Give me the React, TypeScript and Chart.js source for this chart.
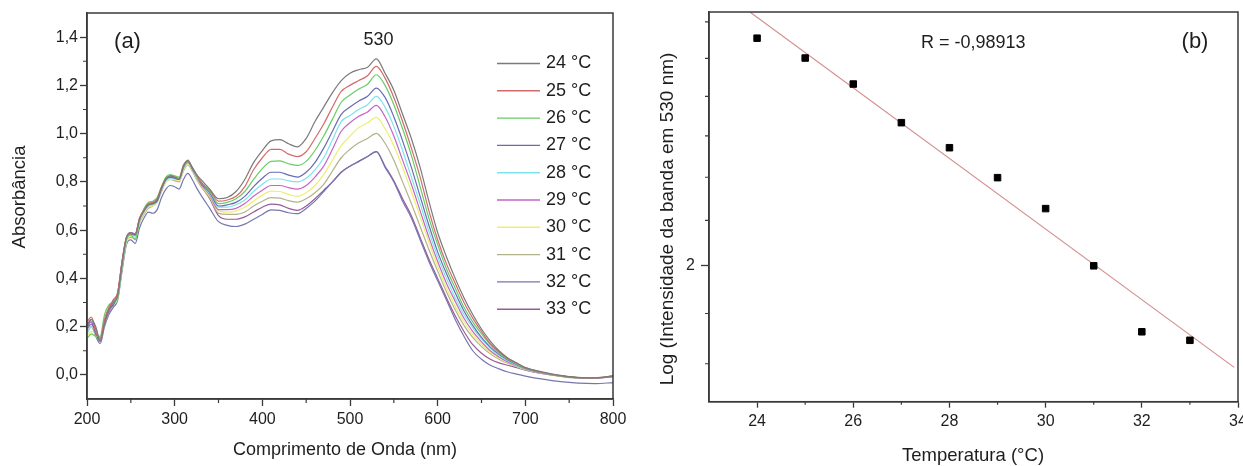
import { useEffect, useRef } from 'react';
import { Chart, registerables } from 'chart.js';

Chart.register(...registerables);

const FONT = '"Liberation Sans", Arial, Helvetica, sans-serif';
const AXIS = '#3a3a3a';
const TEXT = '#1e1e1e';

// ---------- (a) absorbance spectra ----------
const WAVELENGTHS = [
  200, 205, 210, 215, 220, 225, 230, 235, 240, 245, 250, 255, 260, 265, 270, 275, 280, 285, 290, 295,
  300, 305, 310, 315, 320, 325, 330, 340, 350, 360, 370, 380, 390, 400, 410, 420, 430, 440, 450, 460,
  470, 480, 490, 500, 510, 520, 530, 540, 550, 560, 570, 580, 590, 600, 610, 620, 630, 640, 650, 660,
  670, 680, 690, 700, 720, 740, 760, 780, 800,
];
const TEMPERATURES = [24, 25, 26, 27, 28, 29, 30, 31, 32, 33];

const ABS_24 = [
  0.19, 0.23, 0.2, 0.14, 0.21, 0.27, 0.3, 0.33, 0.46, 0.57, 0.59, 0.58, 0.645, 0.68, 0.705, 0.71, 0.725, 0.775, 0.81, 0.825, 0.82, 0.81, 0.865, 0.89, 0.86, 0.83, 0.81,
  0.77, 0.73, 0.735, 0.76, 0.81, 0.88, 0.93, 0.97, 0.975, 0.958, 0.945, 0.98, 1.05, 1.11, 1.17, 1.22, 1.25, 1.265, 1.275, 1.31, 1.25, 1.18, 1.08, 0.98, 0.86, 0.72, 0.59, 0.49, 0.4, 0.32, 0.25, 0.19, 0.14, 0.1, 0.07, 0.05, 0.03,
  0.012, -0.002, -0.01, -0.012, -0.004,
];
const ABS_25 = [
  0.22, 0.24, 0.18, 0.15, 0.23, 0.28, 0.31, 0.34, 0.47, 0.57, 0.585, 0.585, 0.65, 0.685, 0.71, 0.715, 0.73, 0.78, 0.815, 0.825, 0.82, 0.815, 0.87, 0.885, 0.86, 0.83, 0.8,
  0.765, 0.72, 0.725, 0.74, 0.78, 0.85, 0.9, 0.935, 0.935, 0.915, 0.905, 0.925, 0.98, 1.04, 1.11, 1.175, 1.2, 1.22, 1.24, 1.279, 1.23, 1.15, 1.05, 0.94, 0.82, 0.68, 0.56, 0.46, 0.38, 0.3, 0.235, 0.18, 0.13, 0.095, 0.068, 0.048, 0.03,
  0.01, -0.003, -0.011, -0.013, -0.006,
];
const ABS_26 = [
  0.15, 0.17, 0.16, 0.16, 0.25, 0.29, 0.3, 0.32, 0.45, 0.56, 0.58, 0.56, 0.64, 0.69, 0.715, 0.72, 0.735, 0.78, 0.82, 0.83, 0.825, 0.82, 0.865, 0.88, 0.86, 0.825, 0.8,
  0.76, 0.71, 0.715, 0.73, 0.76, 0.81, 0.855, 0.885, 0.887, 0.875, 0.868, 0.885, 0.93, 0.99, 1.06, 1.13, 1.16, 1.185, 1.205, 1.244, 1.2, 1.12, 1.02, 0.91, 0.78, 0.65, 0.54, 0.44, 0.36, 0.28, 0.22, 0.17, 0.125, 0.09, 0.065, 0.045, 0.028,
  0.009, -0.004, -0.011, -0.012, -0.005,
];
const ABS_27 = [
  0.21, 0.22, 0.17, 0.14, 0.22, 0.27, 0.29, 0.33, 0.46, 0.565, 0.585, 0.58, 0.645, 0.68, 0.705, 0.71, 0.72, 0.77, 0.81, 0.82, 0.815, 0.81, 0.86, 0.885, 0.855, 0.825, 0.795,
  0.755, 0.7, 0.705, 0.715, 0.74, 0.78, 0.815, 0.84, 0.84, 0.828, 0.82, 0.84, 0.88, 0.94, 1.01, 1.08, 1.11, 1.135, 1.155, 1.189, 1.15, 1.07, 0.97, 0.86, 0.74, 0.62, 0.51, 0.42, 0.34, 0.265, 0.205, 0.155, 0.115, 0.085, 0.062, 0.043, 0.027,
  0.008, -0.004, -0.012, -0.013, -0.006,
];
const ABS_28 = [
  0.17, 0.2, 0.18, 0.15, 0.23, 0.27, 0.3, 0.33, 0.45, 0.56, 0.58, 0.575, 0.64, 0.675, 0.7, 0.705, 0.72, 0.77, 0.805, 0.815, 0.815, 0.81, 0.855, 0.88, 0.855, 0.82, 0.795,
  0.75, 0.695, 0.695, 0.705, 0.725, 0.76, 0.79, 0.812, 0.812, 0.804, 0.8, 0.815, 0.85, 0.9, 0.975, 1.05, 1.075, 1.1, 1.12, 1.154, 1.11, 1.03, 0.93, 0.82, 0.71, 0.595, 0.49, 0.4, 0.32, 0.25, 0.195, 0.148, 0.11, 0.08, 0.058, 0.04, 0.025,
  0.008, -0.005, -0.012, -0.013, -0.006,
];
const ABS_29 = [
  0.19, 0.21, 0.17, 0.14, 0.22, 0.26, 0.3, 0.34, 0.47, 0.57, 0.59, 0.585, 0.65, 0.68, 0.7, 0.71, 0.725, 0.775, 0.81, 0.82, 0.815, 0.81, 0.86, 0.885, 0.855, 0.82, 0.79,
  0.745, 0.685, 0.685, 0.69, 0.71, 0.74, 0.765, 0.785, 0.785, 0.776, 0.77, 0.785, 0.82, 0.865, 0.935, 1.01, 1.045, 1.072, 1.09, 1.117, 1.07, 0.99, 0.89, 0.79, 0.68, 0.57, 0.47, 0.38, 0.305, 0.235, 0.18, 0.137, 0.1, 0.074, 0.054, 0.038, 0.024,
  0.007, -0.005, -0.012, -0.014, -0.007,
];
const ABS_30 = [
  0.16, 0.18, 0.17, 0.15, 0.22, 0.27, 0.29, 0.32, 0.45, 0.55, 0.575, 0.57, 0.635, 0.67, 0.695, 0.7, 0.715, 0.765, 0.8, 0.81, 0.81, 0.805, 0.85, 0.875, 0.85, 0.815, 0.785,
  0.74, 0.68, 0.675, 0.68, 0.695, 0.72, 0.745, 0.762, 0.76, 0.748, 0.74, 0.755, 0.785, 0.83, 0.89, 0.95, 0.99, 1.025, 1.045, 1.067, 1.02, 0.95, 0.86, 0.76, 0.655, 0.55, 0.45, 0.36, 0.285, 0.22, 0.168, 0.127, 0.094, 0.07, 0.051, 0.036, 0.023,
  0.007, -0.005, -0.012, -0.014, -0.007,
];
const ABS_31 = [
  0.18, 0.2, 0.16, 0.14, 0.21, 0.26, 0.29, 0.32, 0.44, 0.55, 0.57, 0.565, 0.63, 0.665, 0.69, 0.7, 0.715, 0.76, 0.8, 0.81, 0.805, 0.8, 0.845, 0.87, 0.845, 0.81, 0.78,
  0.735, 0.67, 0.665, 0.665, 0.675, 0.7, 0.72, 0.735, 0.733, 0.722, 0.716, 0.73, 0.755, 0.79, 0.845, 0.9, 0.935, 0.962, 0.98, 1.001, 0.96, 0.89, 0.8, 0.71, 0.615, 0.52, 0.43, 0.345, 0.27, 0.205, 0.155, 0.117, 0.087, 0.065, 0.048, 0.034, 0.022,
  0.006, -0.006, -0.013, -0.014, -0.007,
];
const ABS_32 = [
  0.2, 0.21, 0.16, 0.13, 0.2, 0.25, 0.28, 0.31, 0.43, 0.54, 0.56, 0.545, 0.61, 0.65, 0.675, 0.67, 0.685, 0.735, 0.77, 0.785, 0.78, 0.77, 0.81, 0.835, 0.81, 0.775, 0.745,
  0.69, 0.635, 0.62, 0.615, 0.625, 0.645, 0.665, 0.684, 0.682, 0.672, 0.668, 0.69, 0.72, 0.76, 0.8, 0.84, 0.865, 0.885, 0.905, 0.925, 0.86, 0.8, 0.72, 0.65, 0.56, 0.47, 0.39, 0.31, 0.23, 0.16, 0.1, 0.065, 0.04, 0.025, 0.012, 0.003, -0.005,
  -0.018, -0.028, -0.034, -0.036, -0.032,
];
const ABS_33 = [
  0.21, 0.23, 0.19, 0.15, 0.22, 0.27, 0.31, 0.34, 0.47, 0.57, 0.585, 0.58, 0.645, 0.68, 0.7, 0.71, 0.72, 0.77, 0.81, 0.82, 0.815, 0.81, 0.86, 0.88, 0.85, 0.815, 0.785,
  0.73, 0.66, 0.645, 0.645, 0.655, 0.675, 0.695, 0.708, 0.705, 0.69, 0.682, 0.7, 0.73, 0.765, 0.8, 0.84, 0.865, 0.885, 0.905, 0.925, 0.865, 0.805, 0.73, 0.66, 0.57, 0.48, 0.4, 0.32, 0.245, 0.18, 0.125, 0.09, 0.065, 0.05, 0.04, 0.03, 0.02,
  0.005, -0.005, -0.012, -0.012, -0.005,
];
const SPECTRA = [ABS_24, ABS_25, ABS_26, ABS_27, ABS_28, ABS_29, ABS_30, ABS_31, ABS_32, ABS_33];
const SERIES_COLORS = [
  '#7a7a7a', '#d46a6a', '#66cc66', '#6a6ab4', '#7ce4ec',
  '#c466c4', '#eeee72', '#b2b28a', '#7676b0', '#985a98',
];

const X_TICKS_A = [200, 300, 400, 500, 600, 700, 800];
const X_MINOR_A = [250, 350, 450, 550, 650, 750];
const Y_TICKS_A = [0, 0.2, 0.4, 0.6, 0.8, 1.0, 1.2, 1.4];
const Y_MINOR_A = [0.1, 0.3, 0.5, 0.7, 0.9, 1.1, 1.3];

// ---------- (b) log intensity vs temperature ----------
const TEMP_POINTS = [24, 25, 26, 27, 28, 29, 30, 31, 32, 33];
const LOG_INTENSITY = [2.555, 2.501, 2.432, 2.333, 2.271, 2.199, 2.127, 2.0, 1.863, 1.846];
const FIT_X = [23.85, 33.92];
const FIT_Y = [2.628, 1.793];
const X_TICKS_B = [24, 26, 28, 30, 32, 34];
const X_MINOR_B = [25, 27, 29, 31, 33];
const Y_TICKS_B = [2];
const Y_MINOR_B = [1.8, 1.9, 2.1, 2.2, 2.3, 2.4, 2.5, 2.6];
const Y_MIN_B = 1.728;
const Y_MAX_B = 2.628;

type TextItem = { text: string; x: number; y: number; size: number; align?: CanvasTextAlign; rotate?: boolean };

function decorPlugin(id: string, opts: {
  minorX: number[]; minorY: number[]; minorLenX: number; minorLenY: number;
  texts: TextItem[]; legend?: boolean;
}) {
  return {
    id,
    afterDraw(chart: any) {
      const { ctx, chartArea: a, scales } = chart;
      ctx.save();
      ctx.strokeStyle = AXIS;
      ctx.lineWidth = 1.5;
      ctx.strokeRect(a.left, a.top, a.right - a.left, a.bottom - a.top);
      ctx.lineWidth = 1.2;
      ctx.beginPath();
      for (const v of opts.minorX) {
        const px = scales.x.getPixelForValue(v);
        ctx.moveTo(px, a.bottom);
        ctx.lineTo(px, a.bottom + opts.minorLenX);
      }
      for (const v of opts.minorY) {
        const py = scales.y.getPixelForValue(v);
        ctx.moveTo(a.left - opts.minorLenY, py);
        ctx.lineTo(a.left, py);
      }
      ctx.stroke();

      ctx.fillStyle = TEXT;
      ctx.textBaseline = 'middle';
      for (const t of opts.texts) {
        ctx.font = `${t.size}px ${FONT}`;
        ctx.textAlign = t.align || 'center';
        if (t.rotate) {
          ctx.save();
          ctx.translate(t.x, t.y);
          ctx.rotate(-Math.PI / 2);
          ctx.fillText(t.text, 0, 0);
          ctx.restore();
        } else {
          ctx.fillText(t.text, t.x, t.y);
        }
      }

      if (opts.legend) {
        ctx.font = `18px ${FONT}`;
        ctx.textAlign = 'left';
        chart.data.datasets.forEach((ds: any, i: number) => {
          const y = 63.5 + i * 27.3;
          ctx.strokeStyle = ds.borderColor;
          ctx.lineWidth = 1.4;
          ctx.beginPath();
          ctx.moveTo(497, y);
          ctx.lineTo(540, y);
          ctx.stroke();
          ctx.fillStyle = TEXT;
          ctx.fillText(ds.label, 546, y);
        });
      }
      ctx.restore();
    },
  };
}

const tickFont = { family: FONT, size: 16 };

export default function App() {
  const leftRef = useRef<HTMLCanvasElement>(null);
  const rightRef = useRef<HTMLCanvasElement>(null);

  useEffect(() => {
    const left = new Chart(leftRef.current!, {
      type: 'line',
      data: {
        datasets: SPECTRA.map((vals, i) => ({
          label: `${TEMPERATURES[i]} °C`,
          data: WAVELENGTHS.map((w, j) => ({ x: w, y: vals[j] })),
          borderColor: SERIES_COLORS[i],
          backgroundColor: SERIES_COLORS[i],
          borderWidth: 1.2,
          pointRadius: 0,
          cubicInterpolationMode: 'monotone' as const,
          fill: false,
        })),
      },
      options: {
        animation: false,
        responsive: false,
        events: [],
        layout: { autoPadding: false, padding: { left: 0, right: 27, top: 13, bottom: 0 } },
        plugins: { legend: { display: false }, tooltip: { enabled: false } },
        scales: {
          x: {
            type: 'linear',
            min: 200,
            max: 800,
            afterBuildTicks: (s: any) => { s.ticks = X_TICKS_A.map((v) => ({ value: v })); s.min = 200; s.max = 800; },
            afterFit: (s: any) => { s.height = 67; },
            grid: { drawOnChartArea: false, drawTicks: true, tickLength: 7, tickColor: AXIS, tickWidth: 1.3 },
            border: { color: AXIS, width: 1.5 },
            ticks: { font: tickFont, color: TEXT, padding: 4, maxRotation: 0, autoSkip: false, callback: (v: any) => String(v) },
          },
          y: {
            type: 'linear',
            min: -0.1,
            max: 1.5,
            afterBuildTicks: (s: any) => { s.ticks = Y_TICKS_A.map((v) => ({ value: v })); s.min = -0.1; s.max = 1.5; },
            afterFit: (s: any) => { s.width = 87; s.paddingTop = 0; s.paddingBottom = 0; },
            grid: { drawOnChartArea: false, drawTicks: true, tickLength: 7, tickColor: AXIS, tickWidth: 1.3 },
            border: { color: AXIS, width: 1.5 },
            ticks: { font: tickFont, color: TEXT, padding: 2, autoSkip: false, callback: (v: any) => Number(v).toFixed(1).replace('.', ',') },
          },
        },
      },
      plugins: [decorPlugin('decorA', {
        minorX: X_MINOR_A, minorY: Y_MINOR_A, minorLenX: 4, minorLenY: 4, legend: true,
        texts: [
          { text: '(a)', x: 127.5, y: 42, size: 22 },
          { text: '530', x: 378.5, y: 40, size: 18 },
          { text: 'Absorbância', x: 20, y: 197, size: 18.5, rotate: true },
          { text: 'Comprimento de Onda (nm)', x: 345, y: 450, size: 18 },
        ],
      })],
    } as any);

    const right = new Chart(rightRef.current!, {
      type: 'scatter',
      data: {
        datasets: [
          {
            label: 'Log I',
            data: TEMP_POINTS.map((t, i) => ({ x: t, y: LOG_INTENSITY[i] })),
            pointStyle: 'rect',
            pointRadius: 4.6,
            backgroundColor: '#000',
            borderColor: '#000',
            borderWidth: 1,
            showLine: false,
          },
          {
            type: 'line',
            label: 'fit',
            data: FIT_X.map((t, i) => ({ x: t, y: FIT_Y[i] })),
            borderColor: '#d49090',
            borderWidth: 1.2,
            pointRadius: 0,
            showLine: true,
            fill: false,
          },
        ],
      },
      options: {
        animation: false,
        responsive: false,
        events: [],
        layout: { autoPadding: false, padding: { left: 0, right: 22, top: 12, bottom: 0 } },
        plugins: { legend: { display: false }, tooltip: { enabled: false } },
        scales: {
          x: {
            type: 'linear',
            min: 23,
            max: 34,
            afterBuildTicks: (s: any) => { s.ticks = X_TICKS_B.map((v) => ({ value: v })); s.min = 23; s.max = 34; },
            afterFit: (s: any) => { s.height = 64.3; },
            grid: { drawOnChartArea: false, drawTicks: true, tickLength: 6, tickColor: AXIS, tickWidth: 1.3 },
            border: { color: AXIS, width: 1.5 },
            ticks: { font: tickFont, color: TEXT, padding: 4, maxRotation: 0, autoSkip: false, callback: (v: any) => String(v) },
          },
          y: {
            type: 'logarithmic',
            bounds: 'data',
            min: Y_MIN_B,
            max: Y_MAX_B,
            afterBuildTicks: (s: any) => { s.ticks = Y_TICKS_B.map((v) => ({ value: v })); s.min = Y_MIN_B; s.max = Y_MAX_B; },
            afterFit: (s: any) => { s.width = 69; s.paddingTop = 0; s.paddingBottom = 0; },
            grid: { drawOnChartArea: false, drawTicks: true, tickLength: 8, tickColor: AXIS, tickWidth: 1.3 },
            border: { color: AXIS, width: 1.5 },
            ticks: { font: tickFont, color: TEXT, padding: 6, autoSkip: false, callback: (v: any) => String(v).replace('.', ',') },
          },
        },
      },
      plugins: [decorPlugin('decorB', {
        minorX: X_MINOR_B, minorY: Y_MINOR_B, minorLenX: 3, minorLenY: 4,
        texts: [
          { text: '(b)', x: 1195 - 640, y: 42, size: 22 },
          { text: 'R = -0,98913', x: 921 - 640, y: 43.5, size: 18, align: 'left' },
          { text: 'Log (Intensidade da banda em 530 nm)', x: 668 - 640, y: 219, size: 19, rotate: true },
          { text: 'Temperatura (°C)', x: 973 - 640, y: 456, size: 18.5 },
        ],
      })],
    } as any);

    return () => {
      left.destroy();
      right.destroy();
    };
  }, []);

  return (
    <div style={{ position: 'fixed', left: 0, top: 0, width: 1243, height: 466, overflow: 'hidden', background: '#fff' }}>
      <canvas ref={leftRef} width={640} height={466} style={{ position: 'absolute', left: 0, top: 0 }} />
      <canvas ref={rightRef} width={620} height={466} style={{ position: 'absolute', left: 640, top: 0 }} />
    </div>
  );
}
